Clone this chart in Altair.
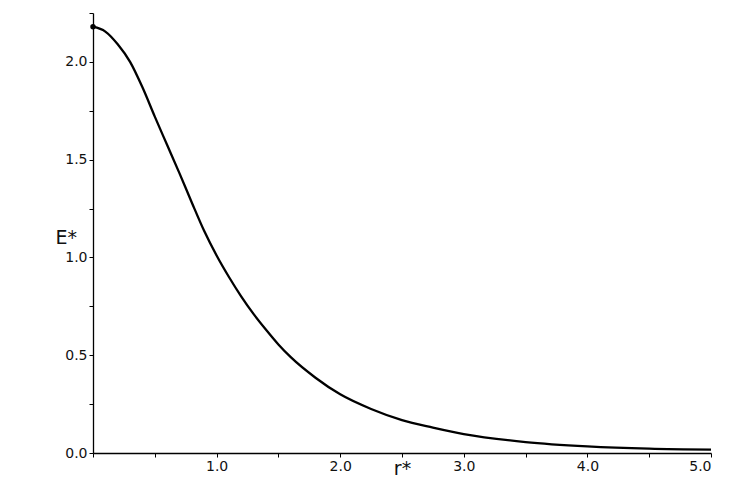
import altair as alt
import pandas as pd

r_vals = [0, 0.1, 0.2, 0.3, 0.4, 0.5, 0.6, 0.7, 0.8, 0.9, 1.0, 1.1, 1.2, 1.3, 1.4, 1.5,
          1.6, 1.8, 2.0, 2.25, 2.5, 2.75, 3.0, 3.5, 4.0, 4.5, 5.0]
e_vals = [2.18, 2.155, 2.09, 2.00, 1.87, 1.72, 1.575, 1.43, 1.28, 1.135, 1.01, 0.90, 0.80,
          0.71, 0.63, 0.555, 0.49, 0.385, 0.30, 0.225, 0.168, 0.13, 0.097, 0.056, 0.034,
          0.022, 0.017]
x_ticks = [0, 0.5, 1, 1.5, 2, 2.5, 3, 3.5, 4, 4.5, 5]
y_ticks = [0, 0.25, 0.5, 0.75, 1, 1.25, 1.5, 1.75, 2, 2.25]

df = pd.DataFrame({"r": r_vals, "E": e_vals})
start = df.iloc[[0]]

FONT = "DejaVu Sans"

x = alt.X("r:Q", scale=alt.Scale(domain=[0, 5], nice=False),
          axis=alt.Axis(values=x_ticks, title="r*", grid=False,
                        labelExpr="datum.value == 0 || datum.value % 1 != 0 ? '' : format(datum.value, '.1f')",
                        titleY=15, titleBaseline="middle", titleFontSize=19,
                        titleFontWeight="normal"))
y = alt.Y("E:Q", scale=alt.Scale(domain=[0, 2.25], nice=False),
          axis=alt.Axis(values=y_ticks, title="E*", grid=False,
                        labelExpr="datum.value % 0.5 != 0 ? '' : format(datum.value, '.1f')",
                        titleAngle=0, titleX=-38, titleY=224, titleBaseline="middle",
                        titleAlign="left", titleFontSize=19, titleFontWeight="normal"))

line = alt.Chart(df).mark_line(color="black", strokeWidth=2.3, interpolate="monotone").encode(x=x, y=y)
dot = alt.Chart(start).mark_point(filled=True, color="black", size=30, opacity=1).encode(x="r:Q", y="E:Q")

chart = (line + dot).properties(
    width=618, height=440,
    autosize=alt.AutoSizeParams(type="none"),
    padding={"left": 85, "top": 5, "right": 30, "bottom": 40},
).configure_view(stroke=None).configure_axis(
    domainColor="black", domainWidth=1.3, tickColor="black", tickSize=4, tickWidth=1,
    labelFont=FONT, titleFont=FONT, labelFontSize=14, labelColor="#111", titleColor="#111",
    labelPadding=2,
)

chart.save("out.html", embed_options={"renderer": "svg", "actions": False})
